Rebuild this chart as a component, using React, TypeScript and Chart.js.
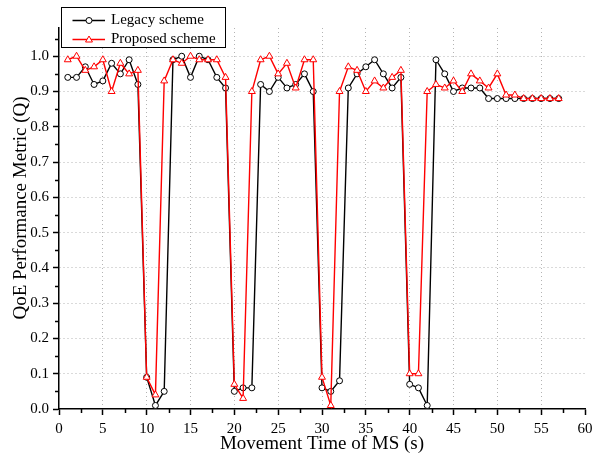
import React, { useEffect, useRef } from "react";
import { Chart, registerables } from "chart.js";

Chart.register(...registerables);

const movementTime = [
  1, 2, 3, 4, 5, 6, 7, 8, 9, 10, 11, 12, 13, 14, 15, 16, 17, 18, 19, 20,
  21, 22, 23, 24, 25, 26, 27, 28, 29, 30, 31, 32, 33, 34, 35, 36, 37, 38, 39, 40,
  41, 42, 43, 44, 45, 46, 47, 48, 49, 50, 51, 52, 53, 54, 55, 56, 57,
];

const legacyScheme = [
  0.94, 0.94, 0.97, 0.92, 0.93, 0.98, 0.95, 0.99, 0.92, 0.09,
  0.01, 0.05, 0.99, 1.0, 0.94, 1.0, 0.99, 0.94, 0.91, 0.05,
  0.06, 0.06, 0.92, 0.9, 0.94, 0.91, 0.92, 0.95, 0.9, 0.06,
  0.05, 0.08, 0.91, 0.95, 0.97, 0.99, 0.95, 0.91, 0.94, 0.07,
  0.06, 0.01, 0.99, 0.95, 0.9, 0.91, 0.91, 0.91, 0.88, 0.88,
  0.88, 0.88, 0.88, 0.88, 0.88, 0.88, 0.88,
];

const proposedScheme = [
  0.99, 1.0, 0.96, 0.97, 0.99, 0.9, 0.98, 0.95, 0.96, 0.09,
  0.04, 0.93, 0.99, 0.98, 1.0, 0.99, 0.99, 0.99, 0.94, 0.07,
  0.03, 0.9, 0.99, 1.0, 0.95, 0.98, 0.91, 0.99, 0.99, 0.09,
  0.01, 0.9, 0.97, 0.96, 0.9, 0.93, 0.91, 0.94, 0.96, 0.1,
  0.1, 0.9, 0.92, 0.91, 0.93, 0.9, 0.95, 0.93, 0.91, 0.95,
  0.89, 0.89, 0.88, 0.88, 0.88, 0.88, 0.88,
];

const xTickValues = [0, 5, 10, 15, 20, 25, 30, 35, 40, 45, 50, 55, 60];
const yTickValues = [0, 0.1, 0.2, 0.3, 0.4, 0.5, 0.6, 0.7, 0.8, 0.9, 1.0];

const seriesNames = ["Legacy scheme", "Proposed scheme"];
const xTitle = "Movement Time of MS (s)";
const yTitle = "QoE Performance Metric (Q)";

const FONT = "'Liberation Serif', 'Times New Roman', serif";
const GRID = "#b4b4b4";

export default function App() {
  const ref = useRef<HTMLCanvasElement | null>(null);

  useEffect(() => {
    const canvas = ref.current;
    if (!canvas) return;

    const minorTicks = {
      id: "minorTicks",
      afterDraw(chart: any) {
        const { ctx, scales, chartArea } = chart;
        const x = scales.x;
        const y = scales.y;
        ctx.save();
        ctx.strokeStyle = "#000";
        ctx.lineWidth = 1.5;
        ctx.beginPath();
        for (let i = 0; i < xTickValues.length - 1; i++) {
          const v = (xTickValues[i] + xTickValues[i + 1]) / 2;
          const px = Math.round(x.getPixelForValue(v)) + 0.5;
          ctx.moveTo(px, chartArea.bottom);
          ctx.lineTo(px, chartArea.bottom + 4);
        }
        for (let i = 0; i < yTickValues.length; i++) {
          const v = yTickValues[i] + 0.05;
          const py = Math.round(y.getPixelForValue(v)) + 0.5;
          ctx.moveTo(chartArea.left - 4, py);
          ctx.lineTo(chartArea.left, py);
        }
        ctx.stroke();
        ctx.restore();
      },
    };

    const yAxisTitle = {
      id: "yAxisTitle",
      afterDraw(chart: any) {
        const { ctx } = chart;
        ctx.save();
        ctx.translate(21, 208);
        ctx.rotate(-Math.PI / 2);
        ctx.fillStyle = "#000";
        ctx.font = `19px ${FONT}`;
        ctx.textAlign = "center";
        ctx.textBaseline = "middle";
        ctx.fillText(yTitle, 0, 0);
        ctx.restore();
      },
    };

    const boxLegend = {
      id: "boxLegend",
      afterDraw(chart: any) {
        const { ctx } = chart;
        const bx = 61.5, by = 7.5, bw = 164, bh = 40;
        ctx.save();
        ctx.fillStyle = "#fff";
        ctx.fillRect(bx, by, bw, bh);
        ctx.strokeStyle = "#000";
        ctx.lineWidth = 1;
        ctx.strokeRect(bx, by, bw, bh);
        const rows = [
          { y: 20.5, color: "#000", shape: "circle", label: chart.data.datasets[0].label },
          { y: 39.5, color: "#ff0000", shape: "triangle", label: chart.data.datasets[1].label },
        ];
        for (const r of rows) {
          ctx.strokeStyle = r.color;
          ctx.lineWidth = 1.3;
          ctx.beginPath();
          ctx.moveTo(72.5, r.y);
          ctx.lineTo(105, r.y);
          ctx.stroke();
          ctx.fillStyle = "#fff";
          ctx.lineWidth = 1;
          ctx.beginPath();
          if (r.shape === "circle") {
            ctx.arc(89, r.y, 3, 0, Math.PI * 2);
          } else {
            const rad = 4;
            const cy = r.y + 0.5;
            ctx.moveTo(89, cy - rad);
            ctx.lineTo(89 + rad * 0.866, cy + rad * 0.5);
            ctx.lineTo(89 - rad * 0.866, cy + rad * 0.5);
            ctx.closePath();
          }
          ctx.fill();
          ctx.stroke();
          ctx.fillStyle = "#000";
          ctx.font = `15px ${FONT}`;
          ctx.textBaseline = "middle";
          ctx.textAlign = "left";
          ctx.fillText(r.label, 111, r.y);
        }
        ctx.restore();
      },
    };

    const chart = new Chart(canvas, {
      type: "line",
      data: {
        datasets: [
          {
            label: seriesNames[0],
            data: movementTime.map((t, i) => ({ x: t, y: legacyScheme[i] })),
            borderColor: "#000",
            borderWidth: 1.4,
            backgroundColor: "#fff",
            pointStyle: "circle",
            pointRadius: 3,
            pointBorderWidth: 1,
            pointBorderColor: "#000",
            pointBackgroundColor: "#fff",
            tension: 0,
            order: 2,
          },
          {
            label: seriesNames[1],
            data: movementTime.map((t, i) => ({ x: t, y: proposedScheme[i] })),
            borderColor: "#ff0000",
            borderWidth: 1.4,
            backgroundColor: "#fff",
            pointStyle: "triangle",
            pointRadius: 4,
            pointBorderWidth: 1,
            pointBorderColor: "#ff0000",
            pointBackgroundColor: "#fff",
            tension: 0,
            order: 1,
          },
        ],
      },
      options: {
        responsive: false,
        animation: false,
        devicePixelRatio: 1,
        layout: { padding: { top: 28, right: 7, left: 0, bottom: 0 } },
        plugins: {
          legend: { display: false },
          tooltip: { enabled: false },
        },
        scales: {
          x: {
            type: "linear",
            min: 0,
            max: 60,
            afterBuildTicks: (scale: any) => {
              scale.ticks = xTickValues.map((v) => ({ value: v }));
            },
            afterFit: (scale: any) => {
              scale.height = 50;
              scale.paddingLeft = 0;
              scale.paddingRight = 0;
            },
            ticks: {
              autoSkip: false,
              maxRotation: 0,
              color: "#000",
              padding: 5,
              font: { family: FONT, size: 15 },
              callback: (v: any) => String(v),
            },
            grid: {
              color: (c: any) =>
                c.tick && (c.tick.value === 0 || c.tick.value === 60) ? "rgba(0,0,0,0)" : GRID,
              lineWidth: 1,
              drawTicks: true,
              tickLength: 6,
              tickColor: "#000",
              tickWidth: 1.5,
              tickBorderDash: [],
            },
            border: { display: true, color: "#000", width: 1.5, dash: [1, 3] },
            title: {
              display: true,
              text: xTitle,
              color: "#000",
              font: { family: FONT, size: 19 },
              padding: { top: 0, bottom: 4 },
            },
          },
          y: {
            type: "linear",
            min: 0,
            max: 1.08,
            afterBuildTicks: (scale: any) => {
              scale.ticks = yTickValues.map((v) => ({ value: v }));
            },
            afterFit: (scale: any) => {
              scale.width = 59;
              scale.paddingTop = 0;
              scale.paddingBottom = 0;
            },
            ticks: {
              autoSkip: false,
              color: "#000",
              padding: 4,
              font: { family: FONT, size: 15 },
              callback: (v: any) => Number(v).toFixed(1),
            },
            grid: {
              color: (c: any) => (c.tick && c.tick.value === 0 ? "rgba(0,0,0,0)" : GRID),
              lineWidth: 1,
              drawTicks: true,
              tickLength: 6,
              tickColor: "#000",
              tickWidth: 1.5,
              tickBorderDash: [],
            },
            border: { display: true, color: "#000", width: 1.5, dash: [1, 3] },
            title: { display: false, text: yTitle },
          },
        },
      },
      plugins: [minorTicks, yAxisTitle, boxLegend],
    } as any);

    return () => chart.destroy();
  }, []);

  return (
    <div style={{ position: "absolute", left: 0, top: 0, width: 592, height: 459, background: "#fff" }}>
      <canvas ref={ref} width={592} height={459} style={{ display: "block" }} />
    </div>
  );
}
